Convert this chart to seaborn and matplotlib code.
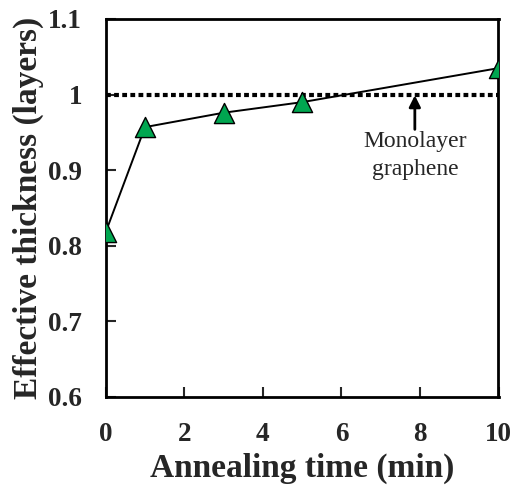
import matplotlib
matplotlib.use("Agg")
import matplotlib.pyplot as plt
import seaborn as sns
import pandas as pd

time_min = [0, 1, 3, 5, 10]
thickness = [0.818, 0.957, 0.976, 0.990, 1.035]
x_ticks = [0, 2, 4, 6, 8, 10]
y_ticks = [0.6, 0.7, 0.8, 0.9, 1.0, 1.1]
y_tick_labels = ["0.6", "0.7", "0.8", "0.9", "1", "1.1"]
monolayer_level = 1.0

sns.set_theme(style="white")
plt.rcParams['font.family'] = ['Liberation Serif', 'DejaVu Serif']

df = pd.DataFrame({"t": time_min, "d": thickness})

fig = plt.figure(figsize=(5.16, 5.0), dpi=100)
ax = fig.add_axes([105.7/516, 1 - 397/500, (498.5-105.7)/516, (397-19)/500])

ax.axhline(monolayer_level, color="black", lw=3.0, linestyle=(0, (1.15, 0.8)), zorder=1)
sns.lineplot(data=df, x="t", y="d", ax=ax, color="black", lw=1.4, zorder=2)
sns.scatterplot(data=df, x="t", y="d", ax=ax, marker="^", s=14.5**2,
                color="#00A650", edgecolor="black", linewidth=1.0, zorder=3)

ax.annotate("", xy=(7.87, 0.999), xytext=(7.87, 0.954),
            arrowprops=dict(arrowstyle="-|>", color="black", lw=2.0, mutation_scale=17,
                            shrinkA=0, shrinkB=0))
ax.text(7.87, 0.9515, "Monolayer\ngraphene", ha="center", va="top",
        fontsize=17, linespacing=1.45)

ax.set_xlim(0, 10)
ax.set_ylim(0.6, 1.1)
ax.set_xticks(x_ticks)
ax.set_xticklabels([str(v) for v in x_ticks])
ax.set_yticks(y_ticks)
ax.set_yticklabels(y_tick_labels)
ax.tick_params(axis="both", direction="in", length=7, width=1.5, labelsize=19.5,
               bottom=True, left=True)
ax.tick_params(axis="x", pad=18)
ax.tick_params(axis="y", pad=17)
for lbl in ax.get_xticklabels() + ax.get_yticklabels():
    lbl.set_fontweight("bold")
for sp in ax.spines.values():
    sp.set_linewidth(2.0)
    sp.set_color("black")

ax.set_xlabel("Annealing time (min)", fontsize=24, fontweight="bold", labelpad=4)
ax.set_ylabel("Effective thickness (layers)", fontsize=24, fontweight="bold", labelpad=3)

fig.savefig("out.png", dpi=100)
